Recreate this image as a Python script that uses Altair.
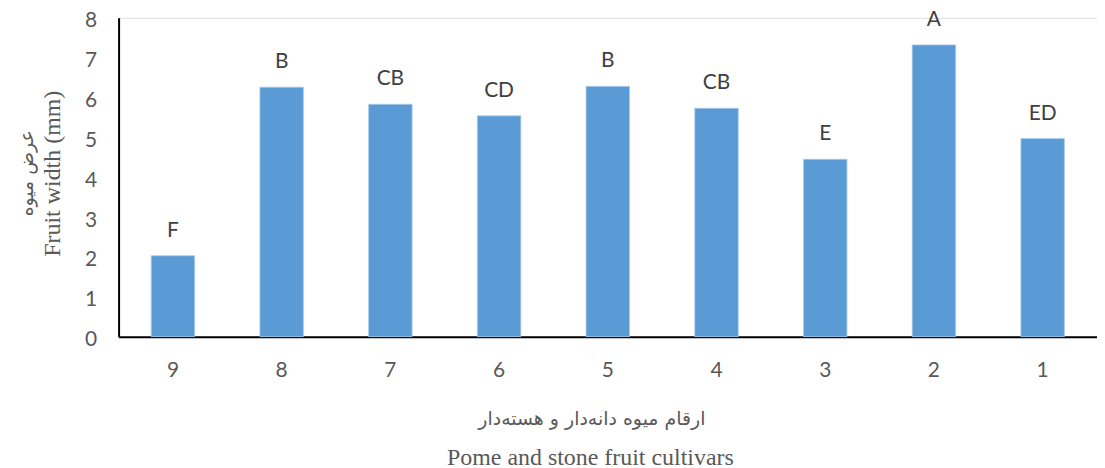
import altair as alt
import pandas as pd

cultivars = ["9", "8", "7", "6", "5", "4", "3", "2", "1"]
widths = [2.03, 6.26, 5.83, 5.54, 6.28, 5.73, 4.45, 7.32, 4.97]
letters = ["F", "B", "CB", "CD", "B", "CB", "E", "A", "ED"]
y_ticks = [0, 1, 2, 3, 4, 5, 6, 7, 8]

df = pd.DataFrame({"cultivar": cultivars, "width": widths, "letter": letters})

W, H = 982, 320
FONT = "Lato"

xenc = alt.X(
    "cultivar:N",
    sort=cultivars,
    scale=alt.Scale(paddingInner=0.6, paddingOuter=0.3),
    axis=alt.Axis(
        title="Pome and stone fruit cultivars",
        titleFont="Liberation Serif",
        titleFontSize=24,
        titleFontWeight="normal",
        titleColor="#595959",
        titleX=W / 2 - 18,
        titleY=121,
        titleBaseline="middle",
        titleAnchor="middle",
        labelAngle=0,
        labelFont=FONT,
        labelFontSize=21,
        labelColor="#595959",
        labelPadding=23,
        labelOverlap=False,
        ticks=False,
        domainColor="#000000",
        domainWidth=2,
        grid=False,
    ),
)

yenc = alt.Y(
    "width:Q",
    scale=alt.Scale(domain=[0, 8], nice=False),
    axis=alt.Axis(
        title="Fruit width (mm)",
        titleFont="Liberation Serif",
        titleFontSize=24,
        titleFontWeight="normal",
        titleColor="#595959",
        titleX=-66,
        titleY=H / 2 - 4,
        titleAngle=-90,
        titleAlign="center",
        titleBaseline="middle",
        values=y_ticks,
        labelFont=FONT,
        labelFontSize=21,
        labelColor="#595959",
        labelPadding=22,
        labelOffset=3,
        labelOverlap=False,
        labelFlush=False,
        ticks=False,
        domainColor="#000000",
        domainWidth=2,
        grid=False,
    ),
)

base = alt.Chart(df).encode(x=xenc, y=yenc)

bars = base.mark_bar(color="#5B9BD5", stroke="#A9CBEA", strokeWidth=0.8)

labels = base.mark_text(
    font=FONT, fontSize=21, color="#404040", baseline="bottom", dy=-15
).encode(text="letter:N")

persian_x = alt.Chart(pd.DataFrame({"t": ["ارقام میوه دانه‌دار و هسته‌دار"]})).mark_text(
    font="DejaVu Sans", fontSize=19, color="#595959", baseline="middle", align="center"
).encode(x=alt.value(W / 2 - 16), y=alt.value(H + 83), text="t:N")

persian_y = alt.Chart(pd.DataFrame({"t": ["عرض میوه"]})).mark_text(
    font="DejaVu Sans", fontSize=19, color="#595959", baseline="middle", align="center", angle=270
).encode(x=alt.value(-92), y=alt.value(H / 2 - 4), text="t:N")

chart = (
    alt.layer(bars, labels, persian_x, persian_y)
    .properties(
        width=W,
        height=H,
        autosize=alt.AutoSizeParams(type="none"),
        padding={"left": 111, "top": 9, "right": 0, "bottom": 131},
    )
    .configure_view(strokeWidth=0, stroke="transparent")
    .configure(background="white")
)

chart.save("out.html", embed_options={"renderer": "svg", "actions": False})
